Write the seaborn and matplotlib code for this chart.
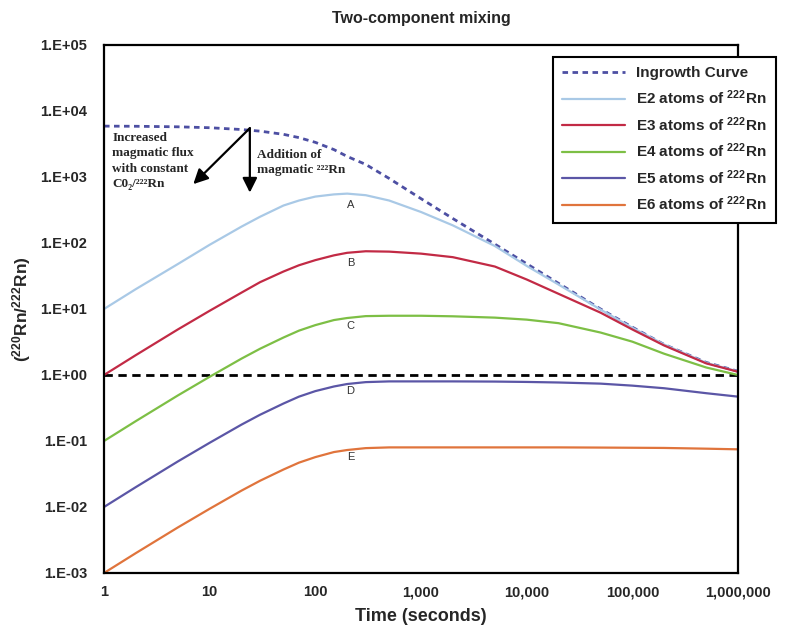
import numpy as np
import pandas as pd
import matplotlib
matplotlib.use("Agg")
import matplotlib.pyplot as plt
import seaborn as sns
from matplotlib.ticker import FixedLocator, FuncFormatter, LogLocator, NullFormatter

# ---- data ----
time_s = [1, 2, 5, 10, 20, 30, 50, 70, 100, 150, 200, 300, 500, 1000, 2000, 5000,
          10000, 20000, 50000, 100000, 200000, 500000, 1000000]

ingrowth = [5900, 5870, 5760, 5580, 5240, 4950, 4430, 3950, 3350, 2600, 2050, 1550, 950,
            470, 235, 96, 48.5, 24.5, 10.0, 5.3, 2.9, 1.55, 1.14]
e2 = [10, 20, 48, 94, 177, 250, 370, 440, 505, 545, 560, 530, 440,
      295, 185, 90, 45, 23.5, 9.8, 5.2, 2.9, 1.53, 1.13]
e3 = [1.0, 2.0, 4.9, 9.4, 17.7, 25.5, 37, 46, 55, 65, 71, 75, 74,
      69, 61, 44, 28, 17, 8.8, 4.9, 2.8, 1.5, 1.12]
e4 = [0.1, 0.2, 0.49, 0.94, 1.77, 2.5, 3.7, 4.7, 5.7, 6.8, 7.3, 7.8, 7.9,
      7.9, 7.75, 7.4, 6.9, 6.1, 4.4, 3.2, 2.1, 1.3, 1.0]
e5 = [0.01, 0.02, 0.049, 0.094, 0.177, 0.25, 0.37, 0.47, 0.57, 0.67, 0.73, 0.78, 0.80,
      0.80, 0.80, 0.795, 0.785, 0.77, 0.74, 0.69, 0.63, 0.53, 0.47]
e6 = [0.001, 0.002, 0.0049, 0.0094, 0.0177, 0.025, 0.037, 0.047, 0.057, 0.068, 0.073,
      0.078, 0.080, 0.080, 0.080, 0.080, 0.080, 0.080, 0.0795, 0.079, 0.0785, 0.0765, 0.0748]

series_labels = ["Ingrowth Curve", r"E2 atoms of $^{222}$Rn", r"E3 atoms of $^{222}$Rn",
                 r"E4 atoms of $^{222}$Rn", r"E5 atoms of $^{222}$Rn", r"E6 atoms of $^{222}$Rn"]
series_colors = ["#4d4fa3", "#a9c9e6", "#c22a45", "#7dbf45", "#5b56a6", "#e0743c"]
curve_letters = ["A", "B", "C", "D", "E"]
letter_y = [370, 49, 5.5, 0.58, 0.058]
x_tick_vals = [1, 10, 100, 1000, 10000, 100000, 1000000]
y_tick_vals = [1e-3, 1e-2, 1e-1, 1, 10, 100, 1e3, 1e4, 1e5]

# ---- style ----
sns.set_style("white")
plt.rcParams["font.family"] = ["Liberation Sans", "DejaVu Sans"]
plt.rcParams["mathtext.fontset"] = "custom"
plt.rcParams["mathtext.rm"] = "Liberation Sans:bold"
plt.rcParams["mathtext.it"] = "Liberation Sans:bold"
plt.rcParams["mathtext.bf"] = "Liberation Sans:bold"

fig = plt.figure(figsize=(8, 6.26), dpi=100)
ax = fig.add_axes([104/800, 1-573/626, (738-104)/800, (573-45)/626])

all_series = [ingrowth, e2, e3, e4, e5, e6]
lines = []
for i, (vals, lab, col) in enumerate(zip(all_series, series_labels, series_colors)):
    df = pd.DataFrame({"t": time_s, "v": vals})
    sns.lineplot(data=df, x="t", y="v", ax=ax, color=col,
                 linewidth=2.0 if i == 0 else 1.6, label=lab, legend=False)
    ln = ax.lines[-1]
    if i == 0:
        ln.set_dashes((2.0, 1.6))
    lines.append(ln)

ax.axhline(1.0, color="black", linestyle=(0, (3, 2)), linewidth=2.0, zorder=1)

ax.set_xscale("log")
ax.set_yscale("log")
ax.set_xlim(1, 1e6)
ax.set_ylim(1e-3, 1e5)

ax.xaxis.set_major_locator(FixedLocator(x_tick_vals))
ax.xaxis.set_major_formatter(FuncFormatter(lambda v, p: f"{int(round(v)):,}"))
ax.xaxis.set_minor_locator(LogLocator(base=10, subs=np.arange(2, 10), numticks=20))
ax.xaxis.set_minor_formatter(NullFormatter())
ax.yaxis.set_major_locator(FixedLocator(y_tick_vals))
ax.yaxis.set_major_formatter(FuncFormatter(lambda v, p: f"1.E{int(round(np.log10(v))):+03d}"))
ax.yaxis.set_minor_locator(LogLocator(base=10, subs=np.arange(2, 10), numticks=20))
ax.yaxis.set_minor_formatter(NullFormatter())

ax.tick_params(axis="both", which="both", direction="in", color="#333333")
ax.tick_params(axis="both", which="major", length=5, width=1)
ax.tick_params(axis="both", which="minor", length=3, width=0.8)
ax.tick_params(axis="x", which="major", pad=9, labelsize=10.5)
ax.tick_params(axis="y", which="major", pad=12, labelsize=10.5)
ax.tick_params(top=False, right=False, which="both")
for lbl in ax.get_xticklabels() + ax.get_yticklabels():
    lbl.set_fontweight("bold")

for s in ax.spines.values():
    s.set_visible(True)
    s.set_color("black")
    s.set_linewidth(1.6)

ax.set_xlabel("Time (seconds)", fontsize=13, fontweight="bold", labelpad=6)
ax.set_ylabel(r"($^{220}$Rn/$^{222}$Rn)", fontsize=12.5, fontweight="bold", labelpad=5)
ax.set_title("Two-component mixing", fontsize=11.5, fontweight="bold", pad=16)

for let, yv in zip(curve_letters, letter_y):
    ax.text(215, yv, let, fontsize=8, color="#333333", ha="center", va="center")

serif = ["Liberation Serif", "DejaVu Serif"]
ax.text(1.2, 1750, "Increased\nmagmatic flux\nwith constant\nC0\u2082/\u00b2\u00b2\u00b2Rn", family=serif,
        fontsize=9.5, fontweight="bold", ha="left", va="center", linespacing=1.35)
ax.text(28, 1650, "Addition of\nmagmatic \u00b2\u00b2\u00b2Rn", family=serif,
        fontsize=9.5, fontweight="bold", ha="left", va="center", linespacing=1.35)
ax.annotate("", xy=(7.0, 780), xytext=(24, 5500),
            arrowprops=dict(arrowstyle="-|>", color="black", lw=1.6, mutation_scale=22,
                            shrinkA=0, shrinkB=0))
ax.annotate("", xy=(24, 580), xytext=(24, 5500),
            arrowprops=dict(arrowstyle="-|>", color="black", lw=1.6, mutation_scale=22,
                            shrinkA=0, shrinkB=0))

leg = fig.legend(handles=lines, labels=series_labels, loc="upper left",
                 bbox_to_anchor=(553/800, 1-57/626), bbox_transform=fig.transFigure,
                 frameon=True, fancybox=False, edgecolor="black", framealpha=1,
                 handlelength=4.1, handletextpad=0.7, labelspacing=0.52,
                 borderpad=0.62, borderaxespad=0.0, prop={"weight": "bold", "size": 11})
leg.get_frame().set_linewidth(1.5)

fig.savefig("out.png", dpi=100)
